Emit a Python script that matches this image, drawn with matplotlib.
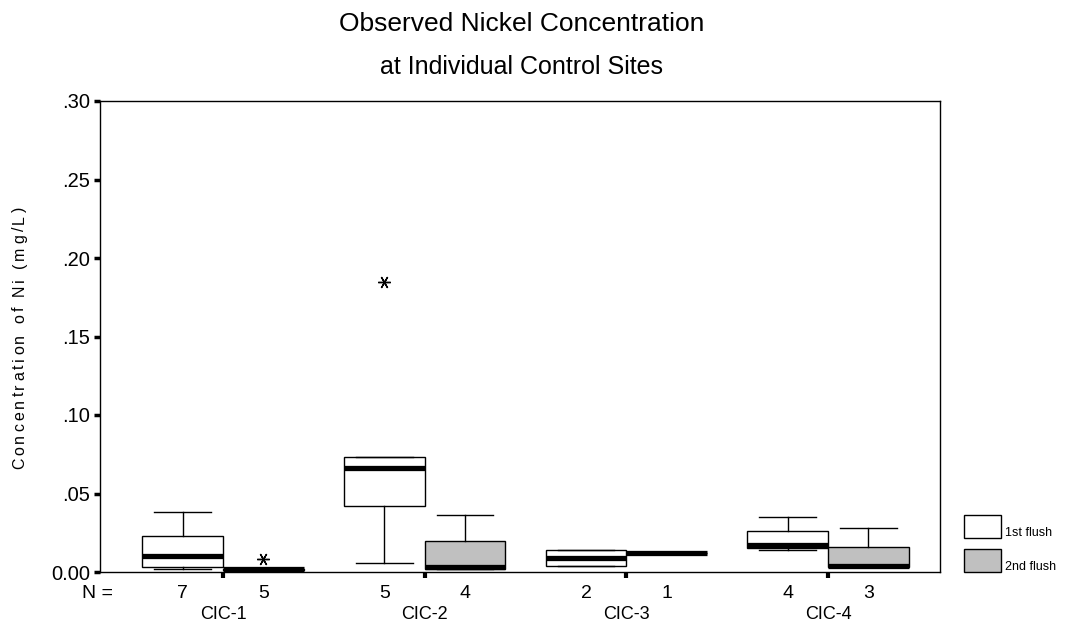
import matplotlib
matplotlib.use("Agg")
import matplotlib.pyplot as plt
from matplotlib.patches import Rectangle
from matplotlib.font_manager import FontProperties

plt.rcParams['font.family'] = ['Liberation Sans', 'DejaVu Sans']

# Site groups and flush series
sites = ["CIC-1", "CIC-2", "CIC-3", "CIC-4"]
series = ["1st flush", "2nd flush"]
series_colors = ["white", "#c0c0c0"]

# Box statistics per series, one entry per site (mg/L)
first_whislo = [0.002, 0.006, 0.004, 0.014]
first_q1     = [0.003, 0.042, 0.004, 0.015]
first_med    = [0.010, 0.066, 0.009, 0.017]
first_q3     = [0.023, 0.073, 0.014, 0.026]
first_whishi = [0.038, 0.073, 0.014, 0.035]
first_fliers = [[], [0.185], [], []]
first_n      = [7, 5, 2, 4]

second_whislo = [0.001, 0.002, 0.012, 0.003]
second_q1     = [0.001, 0.002, 0.012, 0.003]
second_med    = [0.002, 0.003, 0.012, 0.004]
second_q3     = [0.002, 0.020, 0.012, 0.016]
second_whishi = [0.002, 0.036, 0.012, 0.028]
second_fliers = [[0.008], [], [], []]
second_n      = [5, 4, 1, 3]

y_ticks = [0.00, 0.05, 0.10, 0.15, 0.20, 0.25, 0.30]
y_tick_labels = ["0.00", ".05", ".10", ".15", ".20", ".25", ".30"]

W, H = 1066, 633


def make_stats(whislo, q1, med, q3, whishi, fliers):
    return [dict(whislo=a, q1=b, med=c, q3=d, whishi=e, fliers=f)
            for a, b, c, d, e, f in zip(whislo, q1, med, q3, whishi, fliers)]


def spaced_vertical_text(fig, x_px, y_center_px, text, size, tracking_px):
    """Draw text rotated 90 degrees with extra spacing between characters."""
    renderer = fig.canvas.get_renderer()
    prop = FontProperties(family=['Liberation Sans', 'DejaVu Sans'], size=size)
    widths = [renderer.get_text_width_height_descent(ch, prop, ismath=False)[0]
              for ch in text]
    total = sum(widths) + tracking_px * (len(text) - 1)
    y = y_center_px - total / 2.0
    for ch, w in zip(text, widths):
        if ch != " ":
            fig.text(x_px / W, y / H, ch, fontproperties=prop, rotation=90,
                     rotation_mode="anchor", ha="left", va="baseline")
        y += w + tracking_px


fig = plt.figure(figsize=(10.66, 6.33), dpi=100)
ax = fig.add_axes([100 / W, 1 - 572 / H, 840 / W, 471 / H])

group_pos = [1, 2, 3, 4]
offset = 0.2
width = 0.40

all_stats = [
    make_stats(first_whislo, first_q1, first_med, first_q3, first_whishi, first_fliers),
    make_stats(second_whislo, second_q1, second_med, second_q3, second_whishi, second_fliers),
]

for k, (stats, color) in enumerate(zip(all_stats, series_colors)):
    pos = [g + (offset if k else -offset) for g in group_pos]
    ax.bxp(stats, positions=pos, widths=width, patch_artist=True,
           showfliers=True, manage_ticks=False,
           boxprops=dict(facecolor=color, edgecolor="black", linewidth=1.0),
           medianprops=dict(color="black", linewidth=3.8, solid_capstyle="butt"),
           whiskerprops=dict(color="black", linewidth=1.0),
           capprops=dict(color="black", linewidth=1.0),
           capwidths=0.28,
           flierprops=dict(marker=(6, 2, 90), markersize=9, markeredgecolor="black",
                           markerfacecolor="none", markeredgewidth=1.0, linestyle="none"))

ax.set_xlim(0.39, 4.555)
ax.set_ylim(0.0, 0.30)
ax.set_yticks(y_ticks)
ax.set_yticklabels(y_tick_labels, fontsize=14.5)
ax.set_xticks(group_pos)
ax.set_xticklabels([])
ax.tick_params(axis="y", direction="out", length=4, width=2.5, pad=3)
ax.tick_params(axis="x", direction="out", length=4, width=3, pad=2)
for s in ax.spines.values():
    s.set_linewidth(1.0)

# Axis title, letter-spaced
spaced_vertical_text(fig, 24, H - 338, "Concentration of Ni (mg/L)", 11.5, 3.0)

# N counts and site labels below the axis
trans = ax.get_xaxis_transform()
ax.text(0.39 - 0.01, -0.045, "N =", transform=trans, ha="center", va="center", fontsize=14)
for g, n1, n2, name in zip(group_pos, first_n, second_n, sites):
    ax.text(g - offset, -0.045, str(n1), transform=trans, ha="center", va="center", fontsize=14)
    ax.text(g + offset, -0.045, str(n2), transform=trans, ha="center", va="center", fontsize=14)
    ax.text(g, -0.09, name, transform=trans, ha="center", va="center", fontsize=13)

# Title
fig.text(522 / W, 1 - 24 / H, "Observed Nickel Concentration",
         ha="center", va="center", fontsize=19)
fig.text(522 / W, 1 - 67 / H, "at Individual Control Sites",
         ha="center", va="center", fontsize=18)

# Legend swatches
legend_y = [515, 549]
for name, color, top in zip(series, series_colors, legend_y):
    fig.add_artist(Rectangle((964 / W, 1 - (top + 23) / H), 37 / W, 23 / H,
                             facecolor=color, edgecolor="black", linewidth=1.0,
                             transform=fig.transFigure))
    fig.text(1005 / W, 1 - (top + 18) / H, name, ha="left", va="center", fontsize=9)

fig.savefig("out.png", dpi=100)
